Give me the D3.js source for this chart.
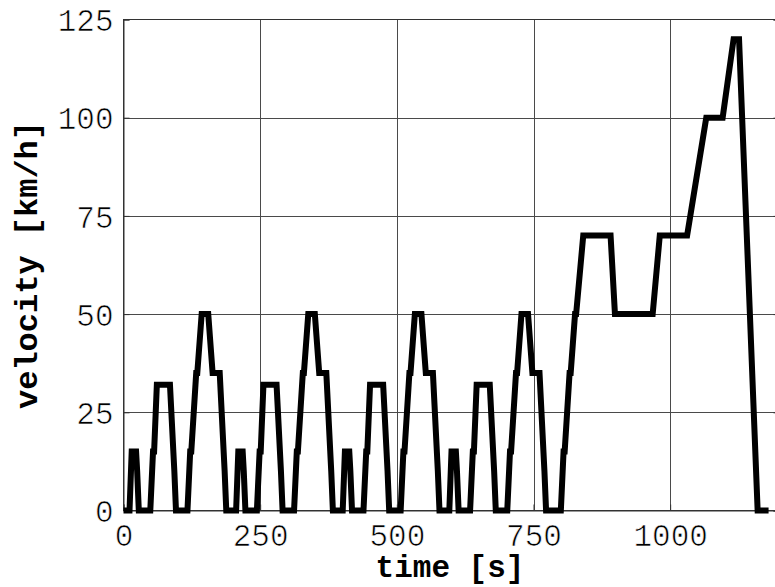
<!DOCTYPE html>
<html>
<head>
<meta charset="utf-8">
<script src="https://cdn.jsdelivr.net/npm/d3@7"></script>
<style>
  html, body { margin: 0; padding: 0; background: #fff; overflow: hidden; }
  svg { display: block; }
</style>
</head>
<body>
<svg id="chart" width="775" height="587"></svg>
<script>
// NEDC driving cycle: time [s] and velocity [km/h]
const timeS = [
  0, 11, 15, 23, 25, 28, 49, 54, 56, 61, 85, 93, 96, 117, 122, 124, 133, 135, 143, 155, 163, 176, 185, 188,
  195, 206, 210, 218, 220, 223, 244, 249, 251, 256, 280, 288, 291, 312, 317, 319, 328, 330, 338, 350, 358, 371, 380, 383,
  390, 401, 405, 413, 415, 418, 439, 444, 446, 451, 475, 483, 486, 507, 512, 514, 523, 525, 533, 545, 553, 566, 575, 578,
  585, 596, 600, 608, 610, 613, 634, 639, 641, 646, 670, 678, 681, 702, 707, 709, 718, 720, 728, 740, 748, 761, 770, 773,
  780, 800, 805, 807, 816, 818, 826, 828, 841, 891, 899, 968, 981, 1031, 1066, 1096, 1116, 1126, 1160, 1180
];
const velocityKmh = [
  0, 0, 15, 15, 10, 0, 0, 15, 15, 32, 32, 10, 0, 0, 15, 15, 35, 35, 50, 50, 35, 35, 10, 0,
  0, 0, 15, 15, 10, 0, 0, 15, 15, 32, 32, 10, 0, 0, 15, 15, 35, 35, 50, 50, 35, 35, 10, 0,
  0, 0, 15, 15, 10, 0, 0, 15, 15, 32, 32, 10, 0, 0, 15, 15, 35, 35, 50, 50, 35, 35, 10, 0,
  0, 0, 15, 15, 10, 0, 0, 15, 15, 32, 32, 10, 0, 0, 15, 15, 35, 35, 50, 50, 35, 35, 10, 0,
  0, 0, 15, 15, 35, 35, 50, 50, 70, 70, 50, 50, 70, 70, 100, 100, 120, 120, 0, 0
];
const xTicks = [0, 250, 500, 750, 1000];
const yTicks = [0, 25, 50, 75, 100, 125];
const xLabel = "time [s]";
const yLabel = "velocity [km/h]";

const svg = d3.select("#chart");
const pL = 123.5, pR = 779.5, pT = 19.5, pB = 510.5;

const x = d3.scaleLinear().domain([0, 1200]).range([pL, pR]);
const y = d3.scaleLinear().domain([0, 125]).range([pB, pT]);

const gridColor = "#4a4a4a";
const font = "'Liberation Mono', 'Courier New', monospace";

// gridlines
svg.append("g").selectAll("line").data(xTicks.filter(d => d > 0)).join("line")
  .attr("x1", d => Math.round(x(d)) + 0.5).attr("x2", d => Math.round(x(d)) + 0.5)
  .attr("y1", pT).attr("y2", pB)
  .attr("stroke", gridColor).attr("stroke-width", 1);
svg.append("g").selectAll("line").data(yTicks.filter(d => d > 0 && d < 125)).join("line")
  .attr("x1", pL).attr("x2", pR)
  .attr("y1", d => Math.round(y(d)) + 0.5).attr("y2", d => Math.round(y(d)) + 0.5)
  .attr("stroke", gridColor).attr("stroke-width", 1);

// box
svg.append("rect").attr("x", pL).attr("y", pT)
  .attr("width", pR - pL).attr("height", pB - pT)
  .attr("fill", "none").attr("stroke", "#333").attr("stroke-width", 1);

// axes with inward ticks
const xAxis = d3.axisBottom(x).tickValues(xTicks).tickSize(-6).tickPadding(14).tickFormat(d3.format("d"));
const yAxis = d3.axisLeft(y).tickValues(yTicks).tickSize(-6).tickPadding(10).tickFormat(d3.format("d"));
const yAxisR = d3.axisRight(y).tickValues(yTicks).tickSize(-6).tickFormat("");

const gx = svg.append("g").attr("transform", `translate(0,${pB})`).call(xAxis);
const gy = svg.append("g").attr("transform", `translate(${pL},0)`).call(yAxis);
const gyr = svg.append("g").attr("transform", `translate(${pR},0)`).call(yAxisR);
[gx, gy, gyr].forEach(g => {
  g.select(".domain").attr("stroke", "#333");
  g.selectAll(".tick line").attr("stroke", "#333");
  g.selectAll("text").attr("fill", "#000")
    .attr("stroke", "#fff").attr("stroke-width", 0.7)
    .style("font-family", font).style("font-size", "31px");
});
gx.selectAll(".tick text").attr("dy", null).attr("y", 35);
gy.selectAll(".tick text").attr("dy", "0.36em").attr("x", -10);

// data line
const line = d3.line().x((d, i) => x(timeS[i])).y(d => y(d));
svg.append("path").datum(velocityKmh)
  .attr("d", line)
  .attr("fill", "none").attr("stroke", "#000").attr("stroke-width", 6)
  .attr("stroke-linejoin", "miter").attr("stroke-linecap", "butt");

// axis labels
svg.append("text").attr("x", 450).attr("y", 577)
  .attr("text-anchor", "middle").style("font-family", font).style("font-weight", "bold").style("font-size", "31px")
  .text(xLabel);
svg.append("text").attr("transform", `translate(37,${(pT + pB) / 2}) rotate(-90)`)
  .attr("text-anchor", "middle").style("font-family", font).style("font-weight", "bold").style("font-size", "32px")
  .text(yLabel);
</script>
</body>
</html>
